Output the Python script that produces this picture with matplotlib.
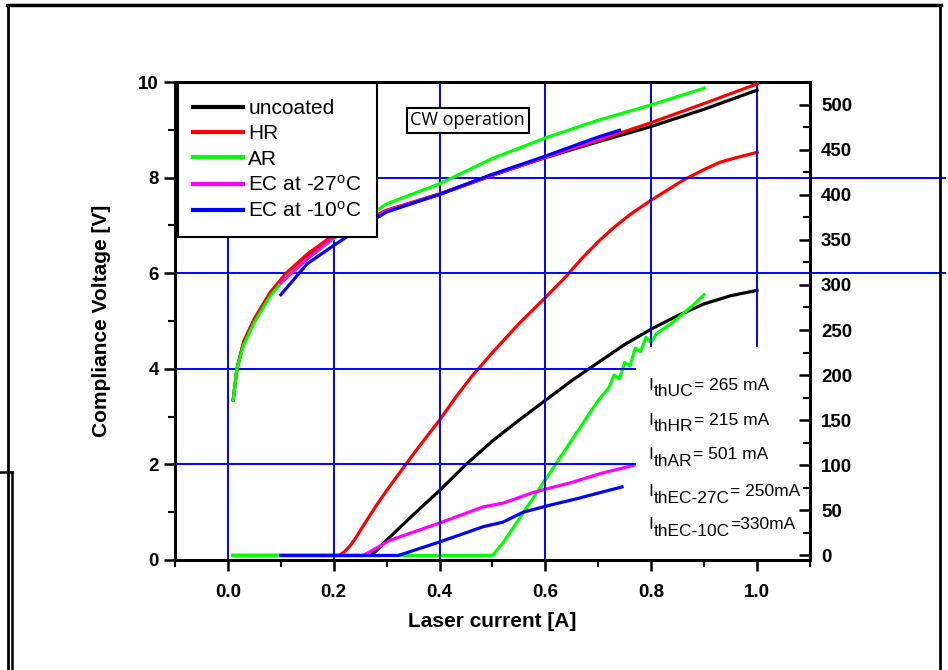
import numpy as np
import matplotlib
matplotlib.use("Agg")
import matplotlib.pyplot as plt
from matplotlib.lines import Line2D
from matplotlib.ticker import MultipleLocator

plt.rcParams.update({
    'font.family': ['Liberation Sans', 'DejaVu Sans'],
    'mathtext.fontset': 'custom',
    'mathtext.rm': 'Liberation Sans',
    'mathtext.it': 'Liberation Sans:italic',
    'mathtext.bf': 'Liberation Sans:bold',
})

# --- voltage curves (left axis, V) ---
i_uc_v = [0.01, 0.017, 0.03, 0.05, 0.08, 0.11, 0.15, 0.2, 0.25, 0.3, 0.4, 0.5, 0.6, 0.7, 0.8, 0.9, 1.0]
v_uc = [3.35, 4.0, 4.55, 5.0, 5.55, 5.95, 6.35, 6.75, 7.02, 7.3, 7.65, 8.05, 8.42, 8.75, 9.07, 9.43, 9.83]

i_hr_v = [0.01, 0.017, 0.03, 0.05, 0.08, 0.11, 0.15, 0.2, 0.25, 0.3, 0.4, 0.5, 0.6, 0.7, 0.8, 0.9, 1.0]
v_hr = [3.35, 4.0, 4.58, 5.05, 5.6, 6.0, 6.4, 6.8, 7.05, 7.32, 7.66, 8.06, 8.43, 8.78, 9.15, 9.55, 9.96]

i_ar_v = [0.01, 0.017, 0.03, 0.05, 0.08, 0.11, 0.15, 0.2, 0.25, 0.3, 0.4, 0.5, 0.6, 0.7, 0.8, 0.9]
v_ar = [3.35, 4.0, 4.5, 4.97, 5.52, 5.92, 6.3, 6.72, 7.08, 7.45, 7.87, 8.4, 8.83, 9.2, 9.52, 9.87]

i_ec27_v = [0.1, 0.15, 0.2, 0.25, 0.3, 0.4, 0.5, 0.6, 0.7, 0.74]
v_ec27 = [5.8, 6.3, 6.75, 7.02, 7.3, 7.65, 8.05, 8.43, 8.8, 8.97]

i_ec10_v = [0.1, 0.15, 0.2, 0.25, 0.3, 0.4, 0.5, 0.6, 0.7, 0.74]
v_ec10 = [5.55, 6.2, 6.58, 6.95, 7.28, 7.65, 8.07, 8.45, 8.85, 8.99]

# --- output power curves (right axis, mW) ---
i_uc_p = [0.01, 0.27, 0.28, 0.3, 0.35, 0.4, 0.45, 0.5, 0.55, 0.6, 0.65, 0.7, 0.75, 0.8, 0.85, 0.9, 0.95, 1.0]
p_uc = [0, 0, 5, 17, 45, 72, 101, 127, 150, 172, 194, 214, 234, 251, 266, 279, 288, 294]

i_hr_p = [0.01, 0.21, 0.22, 0.23, 0.24, 0.256, 0.28, 0.3, 0.32, 0.35, 0.38, 0.4, 0.43, 0.46, 0.5,
          0.55, 0.6, 0.64, 0.67, 0.7, 0.73, 0.76, 0.8, 0.83, 0.86, 0.9, 0.93, 0.96, 1.0]
p_hr = [0, 0, 4, 10, 18, 33, 55, 72, 88, 112, 135, 150, 175, 198, 225,
        257, 286, 310, 330, 348, 364, 378, 394, 405, 416, 428, 436, 441, 447]

i_ar_p = [0.01, 0.5, 0.52, 0.55, 0.6, 0.65, 0.7, 0.72, 0.73, 0.74, 0.75, 0.76, 0.77, 0.78,
          0.79, 0.8, 0.81, 0.82, 0.84, 0.86, 0.88, 0.9]
p_ar = [0, 0, 14, 40, 84, 128, 172, 186, 200, 196, 214, 210, 230, 226,
        242, 236, 246, 250, 258, 268, 278, 289]

i_ec27_p = [0.1, 0.256, 0.307, 0.4, 0.483, 0.52, 0.578, 0.61, 0.65, 0.705, 0.767]
p_ec27 = [0, 0, 17, 36, 54, 58, 70, 75, 81, 91, 100]

i_ec10_p = [0.1, 0.322, 0.4, 0.483, 0.52, 0.558, 0.61, 0.66, 0.705, 0.745]
p_ec10 = [0, 0, 15, 32, 37, 48, 56, 63, 70, 76]

labels = ['uncoated', 'HR', 'AR', r'EC at -27$\mathregular{^{o}}$C', r'EC at -10$\mathregular{^{o}}$C']
colors = ['black', '#FF0000', '#00FF00', '#FF00FF', '#0000FF']

# threshold annotations: (subscript, value text)
th_sub = ['thUC', 'thHR', 'thAR', 'thEC-27C', 'thEC-10C']
th_val = ['= 265 mA', '= 215 mA', '= 501 mA', '= 250mA', '=330mA']

fig = plt.figure(figsize=(9.48, 6.70), dpi=100)
ax = fig.add_axes([0.1846, 0.1642, 0.6698, 0.7134])
ax2 = ax.twinx()
ax.set_zorder(ax2.get_zorder() + 1)
ax.patch.set_visible(False)

grid_kw = dict(color='#0000FF', linewidth=1.4, zorder=0)
ax.vlines([0.0, 0.2, 0.4, 0.6], 0, 10, **grid_kw)
ax.vlines([0.8, 1.0], 4.45, 10, **grid_kw)
ax.hlines([2, 4], -0.1, 0.771, **grid_kw)
ax.hlines([6, 8], -0.1, 1.358, clip_on=False, **grid_kw)

lw = 2.3
v_sets = [(i_uc_v, v_uc), (i_hr_v, v_hr), (i_ar_v, v_ar), (i_ec27_v, v_ec27), (i_ec10_v, v_ec10)]
p_sets = [(i_uc_p, p_uc), (i_hr_p, p_hr), (i_ar_p, p_ar), (i_ec27_p, p_ec27), (i_ec10_p, p_ec10)]
handles = []
for (x, y), c, lab in zip(v_sets, colors, labels):
    h, = ax.plot(x, y, color=c, lw=lw, label=lab, zorder=3, solid_joinstyle='round')
    handles.append(h)
for (x, y), c in zip(p_sets, colors):
    ax2.plot(x, y, color=c, lw=lw, zorder=3, solid_joinstyle='round')

ax.set_xlim(-0.1, 1.1)
ax.set_ylim(0, 10)
ax2.set_ylim(-5, 525)

ax.xaxis.set_major_locator(MultipleLocator(0.2))
ax.xaxis.set_minor_locator(MultipleLocator(0.1))
ax.yaxis.set_major_locator(MultipleLocator(2))
ax.yaxis.set_minor_locator(MultipleLocator(1))
ax2.yaxis.set_major_locator(MultipleLocator(50))
ax2.yaxis.set_minor_locator(MultipleLocator(25))

ax.tick_params(axis='both', which='major', direction='out', length=8, width=1.8, labelsize=13.5)
ax.tick_params(axis='both', which='minor', direction='out', length=5, width=1.5)
ax.tick_params(axis='x', pad=9)
ax2.tick_params(axis='y', which='major', direction='in', length=8, width=1.8, labelsize=13.5, pad=8)
ax2.tick_params(axis='y', which='minor', direction='in', length=5, width=1.5)
ax2.tick_params(axis='x', which='both', top=True, bottom=False, labeltop=False, labelbottom=False,
                direction='in', width=1.5)
ax2.tick_params(axis='x', which='major', length=8)
ax2.tick_params(axis='x', which='minor', length=5)
for lab in ax.get_xticklabels() + ax.get_yticklabels() + ax2.get_yticklabels():
    lab.set_fontweight('bold')
for a in (ax, ax2):
    for s in a.spines.values():
        s.set_linewidth(2)

ax.set_xlabel('Laser current [A]', fontsize=15, fontweight='bold', labelpad=8)
ax.set_ylabel('Compliance Voltage [V]', fontsize=15, fontweight='bold', labelpad=20)

leg = ax.legend(handles=handles, loc='upper left', bbox_to_anchor=(0.004, 0.997), borderaxespad=0,
                fontsize=15, frameon=True, fancybox=False, edgecolor='black', framealpha=1,
                handlelength=2.4, handletextpad=0.25, labelspacing=0.3, borderpad=0.75)
leg.get_frame().set_linewidth(1.5)
for lh in leg.get_lines():
    lh.set_linewidth(3)
leg.set_zorder(10)

ax.text(0.453, 9.2, 'CW operation', fontsize=13, family=['Open Sans', 'DejaVu Sans'],
        ha='center', va='center', zorder=6,
        bbox=dict(boxstyle='square,pad=0.2', facecolor='white', edgecolor='black', linewidth=1.5))

y_txt = [3.5, 2.77, 2.04, 1.27, 0.58]
for sub, val, yy in zip(th_sub, th_val, y_txt):
    t1 = ax.text(0.795, yy, 'I', fontsize=12.5, ha='left', va='bottom', zorder=6)
    t2 = ax.annotate(sub, xy=(1, 0), xycoords=t1, xytext=(0.5, -4.5), textcoords='offset points',
                     fontsize=12.5, ha='left', va='bottom', zorder=6)
    ax.annotate(val, xy=(1, 0), xycoords=(t2, t1), xytext=(0, 0), textcoords='offset points',
                fontsize=12.5, ha='left', va='bottom', zorder=6)

# outer screenshot frame
W, H = 948.0, 670.0
def fl(x0, y0, x1, y1, w):
    fig.add_artist(Line2D([x0 / W, x1 / W], [1 - y0 / H, 1 - y1 / H], color='black', lw=w,
                          transform=fig.transFigure))
fl(7, 5, 941, 5, 2.5)
fl(8, 5, 8, 670, 2.0)
fl(940, 5, 940, 670, 2.0)
fl(0, 472, 12, 472, 1.8)
fl(12, 472, 12, 670, 1.8)

fig.savefig('out.png', dpi=100, facecolor='white')
